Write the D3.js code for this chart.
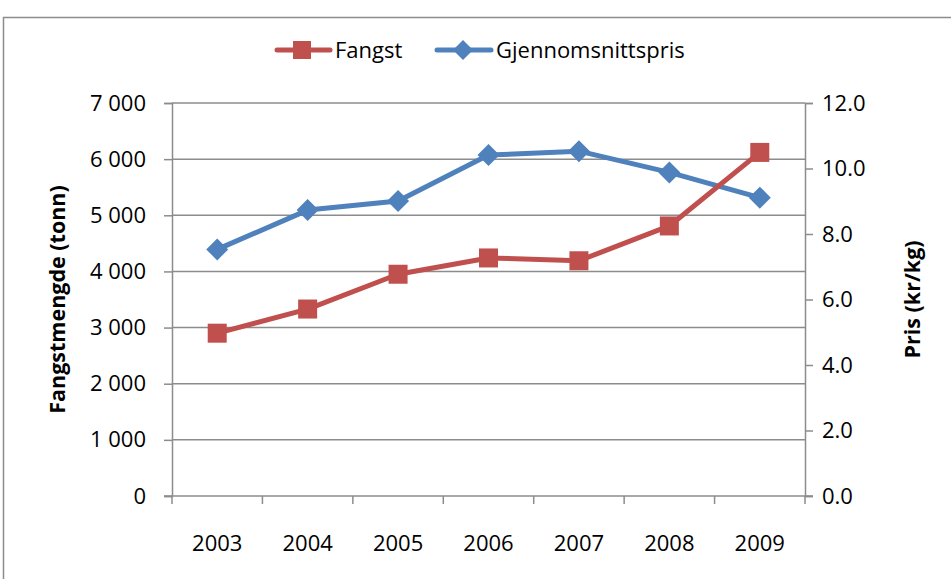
<!DOCTYPE html>
<head>
  <meta charset="utf-8">
  <script src="https://d3js.org/d3.v7.min.js"></script>
  <style>
    body { margin:0; background:#fff; }
    text { font-family: "Open Sans", sans-serif; fill:#000; }
  </style>
</head>
<body>
<script>
  // data
  var years = ["2003", "2004", "2005", "2006", "2007", "2008", "2009"];
  var fangst = [2900, 3330, 3950, 4240, 4190, 4810, 6120];
  var pris = [7.53, 8.73, 9.01, 10.41, 10.53, 9.88, 9.11];
  var leftTicks = [0, 1000, 2000, 3000, 4000, 5000, 6000, 7000];
  var rightTicks = [0, 2, 4, 6, 8, 10, 12];

  var W = 951, H = 579;
  var plot = {left: 172, right: 805, top: 103, bottom: 496};
  var red = "#C0504D", blue = "#4F81BD", grey = "#8c8c8c";
  var fs = "22px";

  var svg = d3.select("body").append("svg")
    .attr("width", W).attr("height", H);

  // chart border (cut by the picture edges at right and bottom)
  svg.append("rect")
    .attr("x", 3.5).attr("y", 17.5)
    .attr("width", 1200).attr("height", 1200)
    .attr("fill", "none").attr("stroke", grey).attr("stroke-width", 1.5);

  var x = d3.scaleBand().domain(years).range([plot.left, plot.right]);
  var yL = d3.scaleLinear().domain([0, 7000]).range([plot.bottom, plot.top]);
  var yR = d3.scaleLinear().domain([0, 12]).range([plot.bottom, plot.top]);

  var loc = d3.formatLocale({decimal: ".", thousands: " ", grouping: [3], currency: ["", ""]});
  var fmtL = loc.format(",.0f");
  var fmtR = d3.format(".1f");

  // gridlines
  svg.append("g").selectAll("line")
    .data(leftTicks.filter(function(d){ return d > 0; }))
    .enter().append("line")
    .attr("x1", plot.left).attr("x2", plot.right)
    .attr("y1", function(d){ return yL(d); })
    .attr("y2", function(d){ return yL(d); })
    .attr("stroke", grey).attr("stroke-width", 1.5);

  // left axis
  var gl = svg.append("g")
    .attr("transform", "translate(" + plot.left + ",0)")
    .call(d3.axisLeft(yL).tickValues(leftTicks).tickFormat(fmtL).tickSize(8));
  // right axis
  var gr = svg.append("g")
    .attr("transform", "translate(" + plot.right + ",0)")
    .call(d3.axisRight(yR).tickValues(rightTicks).tickFormat(fmtR).tickSize(8));
  // bottom axis: ticks at band boundaries
  var gb = svg.append("g")
    .attr("transform", "translate(0," + plot.bottom + ")");
  gb.append("line")
    .attr("x1", plot.left - 8).attr("x2", plot.right + 8)
    .attr("stroke", grey).attr("stroke-width", 1.5);
  gb.selectAll("line.tk")
    .data(years.concat(["end"]))
    .enter().append("line").attr("class", "tk")
    .attr("x1", function(d, i){ return i < years.length ? x(d) : plot.right; })
    .attr("x2", function(d, i){ return i < years.length ? x(d) : plot.right; })
    .attr("y1", 0).attr("y2", 8)
    .attr("stroke", grey).attr("stroke-width", 1.5);
  gb.selectAll("text")
    .data(years)
    .enter().append("text")
    .attr("x", function(d){ return x(d) + x.bandwidth() / 2; })
    .attr("y", 55)
    .attr("text-anchor", "middle")
    .style("font-size", fs)
    .text(function(d){ return d; });

  [gl, gr].forEach(function(g){
    g.select(".domain").attr("stroke", grey).attr("stroke-width", 1.5);
    g.selectAll(".tick line").attr("stroke", grey).attr("stroke-width", 1.5);
    g.selectAll(".tick text").style("font-size", fs).attr("fill", "#000");
  });
  gl.selectAll(".tick text").attr("x", -26);
  gr.selectAll(".tick text").attr("x", 17);

  // axis titles
  svg.append("text")
    .attr("transform", "translate(65," + (plot.top + plot.bottom) / 2 + ") rotate(-90)")
    .attr("text-anchor", "middle")
    .style("font-size", "21.5px").style("font-weight", "bold")
    .text("Fangstmengde (tonn)");
  svg.append("text")
    .attr("transform", "translate(920," + (plot.top + plot.bottom) / 2 + ") rotate(-90)")
    .attr("text-anchor", "middle")
    .style("font-size", "21.5px").style("font-weight", "bold")
    .text("Pris (kr/kg)");

  var cx = function(d, i){ return x(years[i]) + x.bandwidth() / 2; };

  // price line
  svg.append("path")
    .datum(pris)
    .attr("fill", "none").attr("stroke", blue).attr("stroke-width", 5)
    .attr("stroke-linejoin", "round")
    .attr("d", d3.line().x(cx).y(function(d){ return yR(d); }));
  svg.selectAll(".dia")
    .data(pris).enter().append("path").attr("class", "dia")
    .attr("transform", function(d, i){ return "translate(" + cx(d, i) + "," + yR(d) + ")"; })
    .attr("d", "M0,-11L11,0L0,11L-11,0Z")
    .attr("fill", blue);

  // catch line
  svg.append("path")
    .datum(fangst)
    .attr("fill", "none").attr("stroke", red).attr("stroke-width", 5)
    .attr("stroke-linejoin", "round")
    .attr("d", d3.line().x(cx).y(function(d){ return yL(d); }));
  svg.selectAll(".sq")
    .data(fangst).enter().append("rect").attr("class", "sq")
    .attr("x", function(d, i){ return cx(d, i) - 9.5; })
    .attr("y", function(d){ return yL(d) - 9.5; })
    .attr("width", 19).attr("height", 19)
    .attr("fill", red);

  // legend
  var leg = svg.append("g").attr("transform", "translate(0,50)");
  leg.append("line").attr("x1", 277).attr("x2", 330)
    .attr("stroke", red).attr("stroke-width", 5).attr("stroke-linecap", "round");
  leg.append("rect").attr("x", 293).attr("y", -9).attr("width", 18).attr("height", 18).attr("fill", red);
  leg.append("text").attr("x", 335).attr("y", 8).style("font-size", fs).text("Fangst");
  leg.append("line").attr("x1", 437).attr("x2", 491)
    .attr("stroke", blue).attr("stroke-width", 5).attr("stroke-linecap", "round");
  leg.append("path").attr("transform", "translate(463,0)")
    .attr("d", "M0,-10L10,0L0,10L-10,0Z").attr("fill", blue);
  leg.append("text").attr("x", 496).attr("y", 8).style("font-size", fs).text("Gjennomsnittspris");
</script>
</body>
